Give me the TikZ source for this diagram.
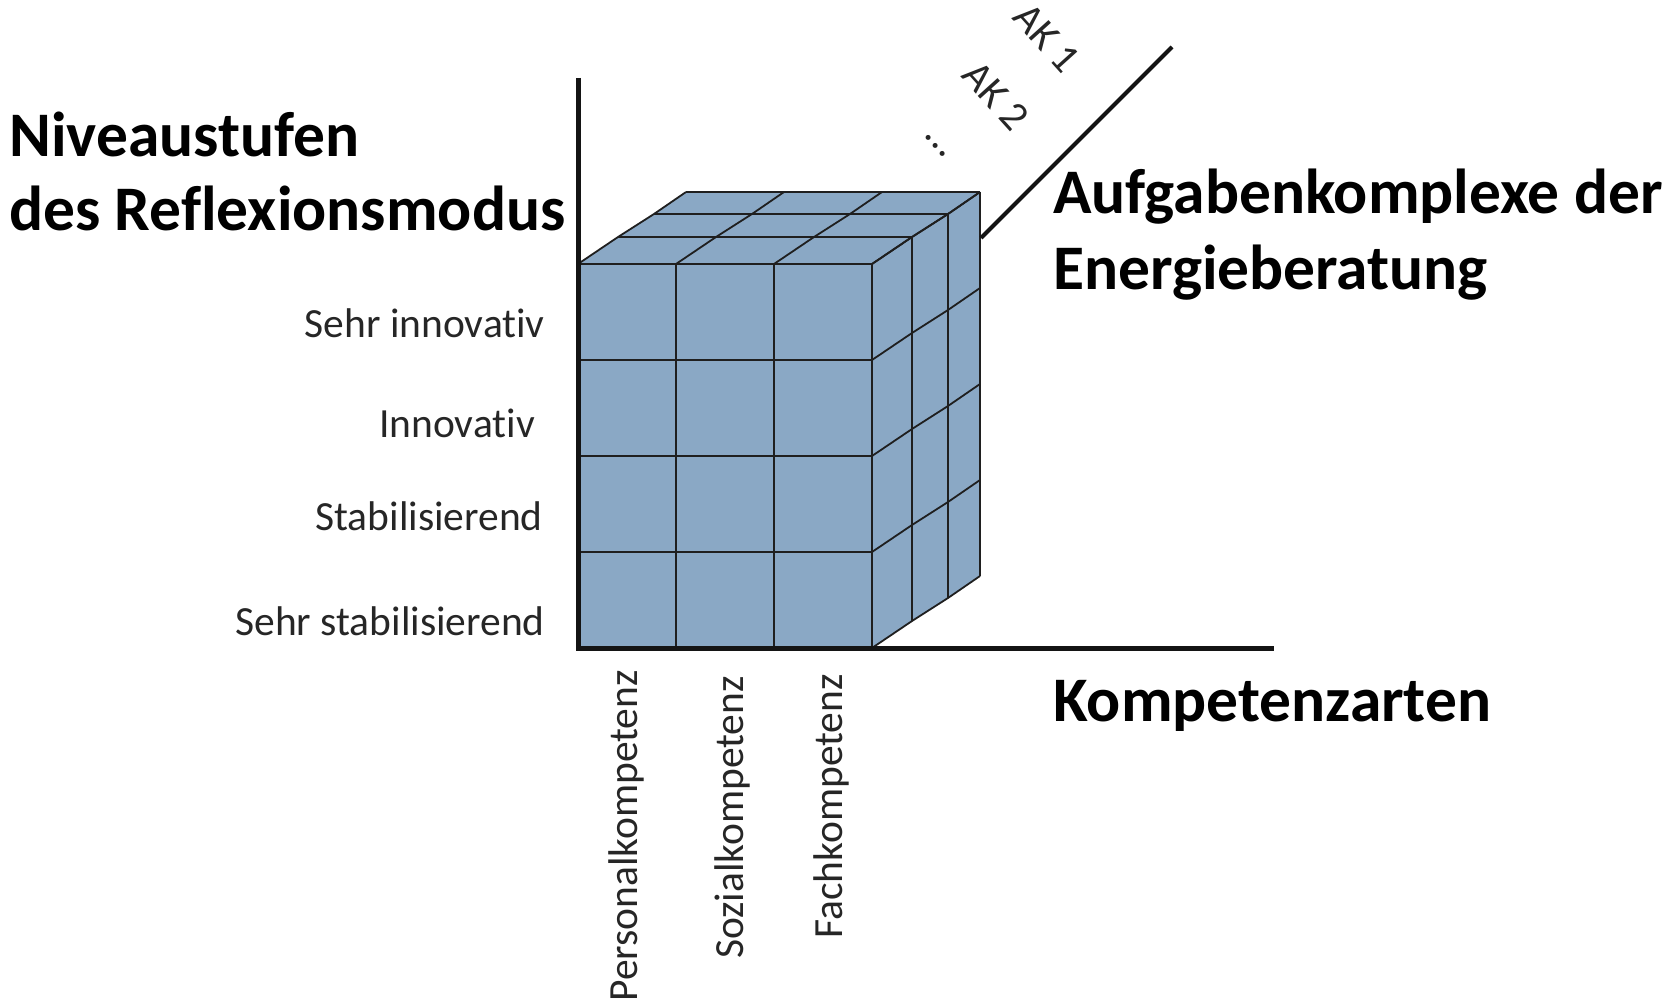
\documentclass[tikz,border=0pt]{standalone}
\usepackage{fontspec}
\setmainfont{Carlito}[Ligatures=NoCommon]
\definecolor{cubefill}{RGB}{138,168,197}
\begin{document}
\begin{tikzpicture}[x=1pt,y=-1pt,
  axisline/.style={line width=5pt,draw=black!92},
  gridline/.style={line width=1.8pt,draw=black!88,line join=round},
  titletext/.style={font=\fontsize{63.5}{74}\selectfont\bfseries,inner sep=0pt,text=black},
  lbltext/.style={font=\fontsize{41.5}{48}\selectfont,inner sep=0pt,text=black!85}]
\path[use as bounding box] (0,0) rectangle (1672,1003);

% cube body
\fill[cubefill] (578,648) -- (578,264) -- (686,192) -- (980,192) -- (980,576) -- (872,648) -- cycle;

% front face grid
\foreach \xc in {578,676,774,872} \draw[gridline] (\xc,264) -- (\xc,648);
\foreach \yr in {264,360,456,552,648} \draw[gridline] (578,\yr) -- (872,\yr);

% top face grid
\foreach \dx/\dy in {0/0,40/-27,76/-50,108/-72}
  \draw[gridline] (578+\dx,264+\dy) -- (872+\dx,264+\dy);
\foreach \xc in {578,676,774,872}
  \draw[gridline] (\xc,264) -- (\xc+40,237) -- (\xc+76,214) -- (\xc+108,192);

% right face grid
\foreach \dx/\dy in {0/0,40/-27,76/-50,108/-72}
  \draw[gridline] (872+\dx,264+\dy) -- (872+\dx,648+\dy);
\foreach \yr in {264,360,456,552,648}
  \draw[gridline] (872,\yr) -- (912,\yr-27) -- (948,\yr-50) -- (980,\yr-72);

% axes
\coordinate (origin) at (578,648);
\coordinate (ytop) at (578,78);
\coordinate (xend) at (1274,648);
\coordinate (zstart) at (981,238);
\coordinate (zend) at (1172,47);
\draw[axisline] (ytop) -- (origin) -- (xend);
\draw[line width=4pt,draw=black!92] (zstart) -- (zend);

% titles
\node[titletext,anchor=base west] (ytitle1) at (9,157) {Niveaustufen};
\node[titletext,anchor=base west] (ytitle2) at (9,230) {des Reflexionsmodus};
\node[titletext,anchor=base west] (ztitle1) at (1053,213) {Aufgabenkomplexe der};
\node[titletext,anchor=base west] (ztitle2) at (1053,289) {Energieberatung};
\node[titletext,anchor=base west] (xtitle) at (1053,721) {Kompetenzarten};

% level labels
\node[lbltext,anchor=base east] (l4) at (545,337) {Sehr innovativ};
\node[lbltext,anchor=base east] (l3) at (535,437) {Innovativ};
\node[lbltext,anchor=base east] (l2) at (543,530) {Stabilisierend};
\node[lbltext,anchor=base east] (l1) at (545,635) {Sehr stabilisierend};

% competence labels
\node[lbltext,rotate=90,anchor=base east] (c1) at (637,670) {Personalkompetenz};
\node[lbltext,rotate=90,anchor=base east] (c2) at (743,676) {Sozialkompetenz};
\node[lbltext,rotate=90,anchor=base east] (c3) at (842,674) {Fachkompetenz};

% task complexes
\node[lbltext,rotate=-48] (ak1) at (1047,38) {AK 1};
\node[lbltext,rotate=-48] (ak2) at (996,96) {AK 2};
\node[lbltext,rotate=-48] (akd) at (936,146) {...};
\end{tikzpicture}
\end{document}
